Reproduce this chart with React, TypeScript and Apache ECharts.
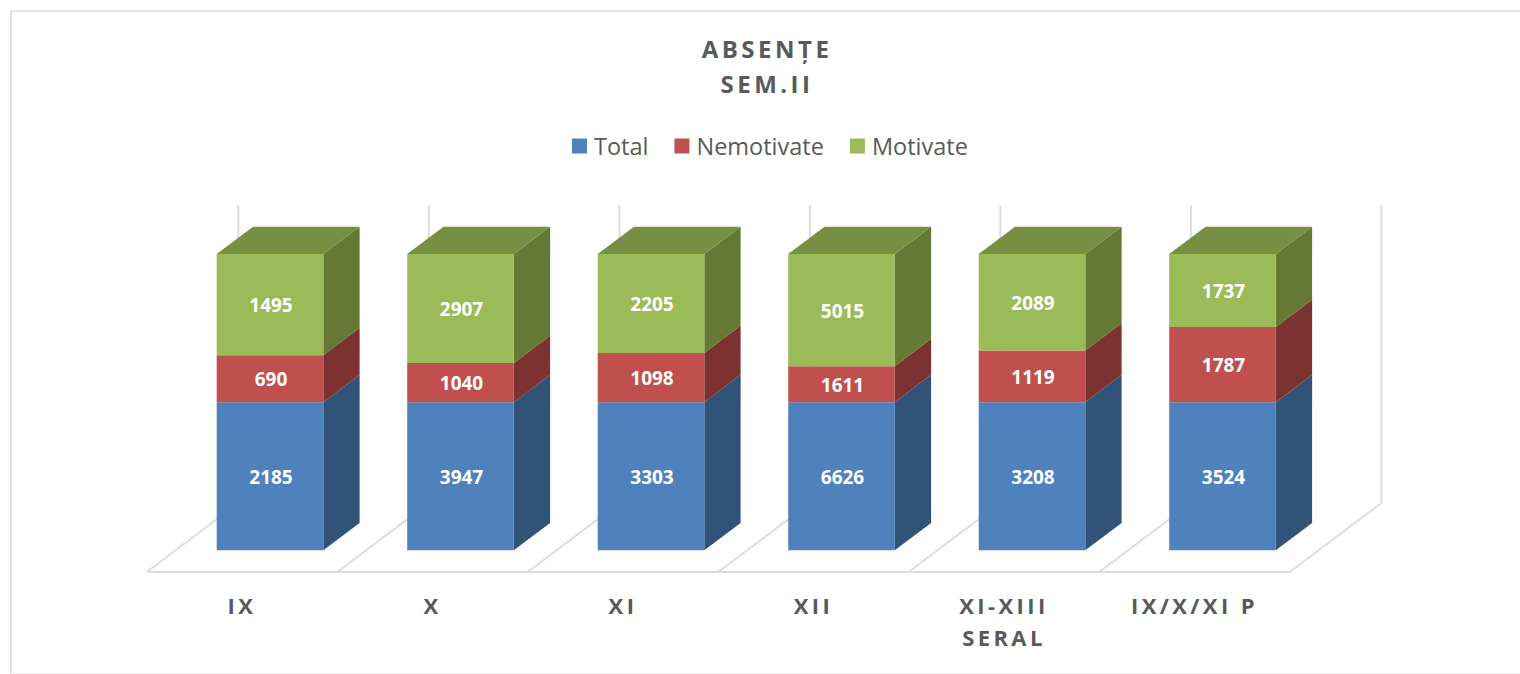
import React, { useEffect, useRef } from "react";
import * as echarts from "echarts";

const categories = ["IX", "X", "XI", "XII", "XI-XIII\nSERAL", "IX/X/XI P"];
const total = [2185, 3947, 3303, 6626, 3208, 3524];
const nemotivate = [690, 1040, 1098, 1611, 1119, 1787];
const motivate = [1495, 2907, 2205, 5015, 2089, 1737];

const seriesNames = ["Total", "Nemotivate", "Motivate"];
const seriesValues = [total, nemotivate, motivate];
const frontColors = ["#4F81BD", "#C0504D", "#9BBB59"];
const sideColors = ["#325378", "#7B3230", "#657935"];
const topColor = "#778F42";
const lineColor = "#DDDDDD";
const FONT = "'Open Sans'";

const BAR_RATIO = 106.6 / 190.5;
const BAR_OFFSET = 70 / 190.5;
const DX = 36.3;
const DY = -27.3;

function pctRows(layer: number) {
  return categories.map((_, i) => {
    const sum = seriesValues.reduce((a, s) => a + s[i], 0);
    let start = 0;
    for (let k = 0; k < layer; k++) start += seriesValues[k][i];
    const v = seriesValues[layer][i];
    return [i, (start / sum) * 100, ((start + v) / sum) * 100, v];
  });
}

function barRenderer(layer: number) {
  return (_: any, api: any) => {
    const idx = api.value(0);
    const band = api.size([1, 0])[0];
    const left = api.coord([idx, 0])[0] - band / 2 + band * BAR_OFFSET;
    const w = band * BAR_RATIO;
    const y0 = api.coord([idx, api.value(1)])[1];
    const y1 = api.coord([idx, api.value(2)])[1];
    const children: any[] = [
      {
        type: "polygon",
        shape: {
          points: [
            [left + w, y0],
            [left + w, y1],
            [left + w + DX, y1 + DY],
            [left + w + DX, y0 + DY],
          ],
        },
        style: { fill: sideColors[layer] },
      },
      {
        type: "rect",
        shape: { x: left, y: y1, width: w, height: y0 - y1 },
        style: { fill: frontColors[layer] },
      },
    ];
    if (layer === seriesValues.length - 1) {
      children.push({
        type: "polygon",
        shape: {
          points: [
            [left, y1],
            [left + w, y1],
            [left + w + DX, y1 + DY],
            [left + DX, y1 + DY],
          ],
        },
        style: { fill: topColor },
      });
    }
    children.push({
      type: "text",
      style: {
        text: String(api.value(3)),
        x: left + w / 2 + 1,
        y: (y0 + y1) / 2 + 0.5,
        fill: "#FFFFFF",
        font: `bold 19px ${FONT}`,
        align: "center",
        verticalAlign: "middle",
      },
    });
    return { type: "group", children };
  };
}

function floorRenderer(_: any, api: any) {
  const idx = api.value(0);
  const band = api.size([1, 0])[0];
  const base = api.coord([idx, 0]);
  const top = api.coord([idx, 100]);
  const frontY = base[1] + 21.7;
  const backY = frontY - 69;
  const wallTop = top[1] - 49;
  const depth = 91.7;
  const line = (x1: number, y1: number, x2: number, y2: number) => ({
    type: "line",
    shape: { x1, y1, x2, y2 },
    style: { stroke: lineColor, lineWidth: 2 },
  });
  const rungs = (x: number) => [
    line(x, frontY, x + depth, backY),
    line(x + depth, backY, x + depth, wallTop),
  ];
  const xl = base[0] - band / 2;
  const children = [...rungs(xl), line(xl, frontY, xl + band, frontY)];
  if (idx === categories.length - 1) children.push(...rungs(xl + band));
  return { type: "group", silent: true, children };
}

export default function App() {
  const ref = useRef<HTMLDivElement>(null);
  useEffect(() => {
    const chart = echarts.init(ref.current!, undefined, { renderer: "svg" });
    chart.setOption({
      animation: false,
      backgroundColor: "#FFFFFF",
      title: {
        text: "ABSENȚE\nSEM.II",
        left: 762,
        top: 26,
        textAlign: "center",
        textStyle: {
          fontFamily: FONT,
          fontSize: 24,
          fontWeight: "bold",
          color: "#595959",
          lineHeight: 35,
        },
      },
      legend: {
        left: 572,
        top: 134,
        padding: 0,
        itemWidth: 15,
        itemHeight: 15,
        itemGap: 26,
        icon: "rect",
        data: seriesNames,
        textStyle: { fontFamily: FONT, fontSize: 23.5, color: "#595959", padding: [0, 0, 0, 2] },
      },
      graphic: [
        {
          type: "line",
          shape: { x1: 11, y1: 11, x2: 1520, y2: 11 },
          style: { stroke: lineColor, lineWidth: 1.6 },
          silent: true,
        },
        {
          type: "line",
          shape: { x1: 11, y1: 11, x2: 11, y2: 674 },
          style: { stroke: lineColor, lineWidth: 2 },
          silent: true,
        },
        {
          type: "line",
          shape: { x1: 11, y1: 673.5, x2: 1520, y2: 673.5 },
          style: { stroke: "#F0F0F0", lineWidth: 1 },
          silent: true,
        },
      ],
      grid: { left: 146.7, width: 1143, top: 254, height: 296.3, containLabel: false },
      xAxis: {
        type: "category",
        data: categories,
        axisLine: { show: false },
        axisTick: { show: false },
        axisLabel: {
          interval: 0,
          margin: 39,
          fontFamily: FONT,
          fontSize: 22,
          fontWeight: "bold",
          color: "#595959",
          lineHeight: 32,
        },
      },
      yAxis: { type: "value", min: 0, max: 100, show: false },
      series: [
        {
          type: "custom",
          name: "floor",
          silent: true,
          clip: false,
          z: 1,
          encode: { x: 0, y: 1 },
          data: categories.map((_, i) => [i, 0]),
          renderItem: floorRenderer,
        },
        ...seriesNames.map((name, layer) => ({
          type: "custom",
          name,
          clip: false,
          z: 2 + layer,
          itemStyle: { color: frontColors[layer] },
          encode: { x: 0, y: [1, 2] },
          data: pctRows(layer),
          renderItem: barRenderer(layer),
        })),
      ],
    });
    return () => chart.dispose();
  }, []);
  return (
    <>
      <style>{`
        html, body { margin: 0; overflow: hidden; background: #fff; }
        #chart text[style*="22px"] { letter-spacing: 3.4px; }
        #chart text[style*="24px"] { letter-spacing: 3.5px; }
      `}</style>
      <div
        id="chart"
        ref={ref}
        style={{ position: "absolute", left: 0, top: 0, width: 1520, height: 674 }}
      />
    </>
  );
}
